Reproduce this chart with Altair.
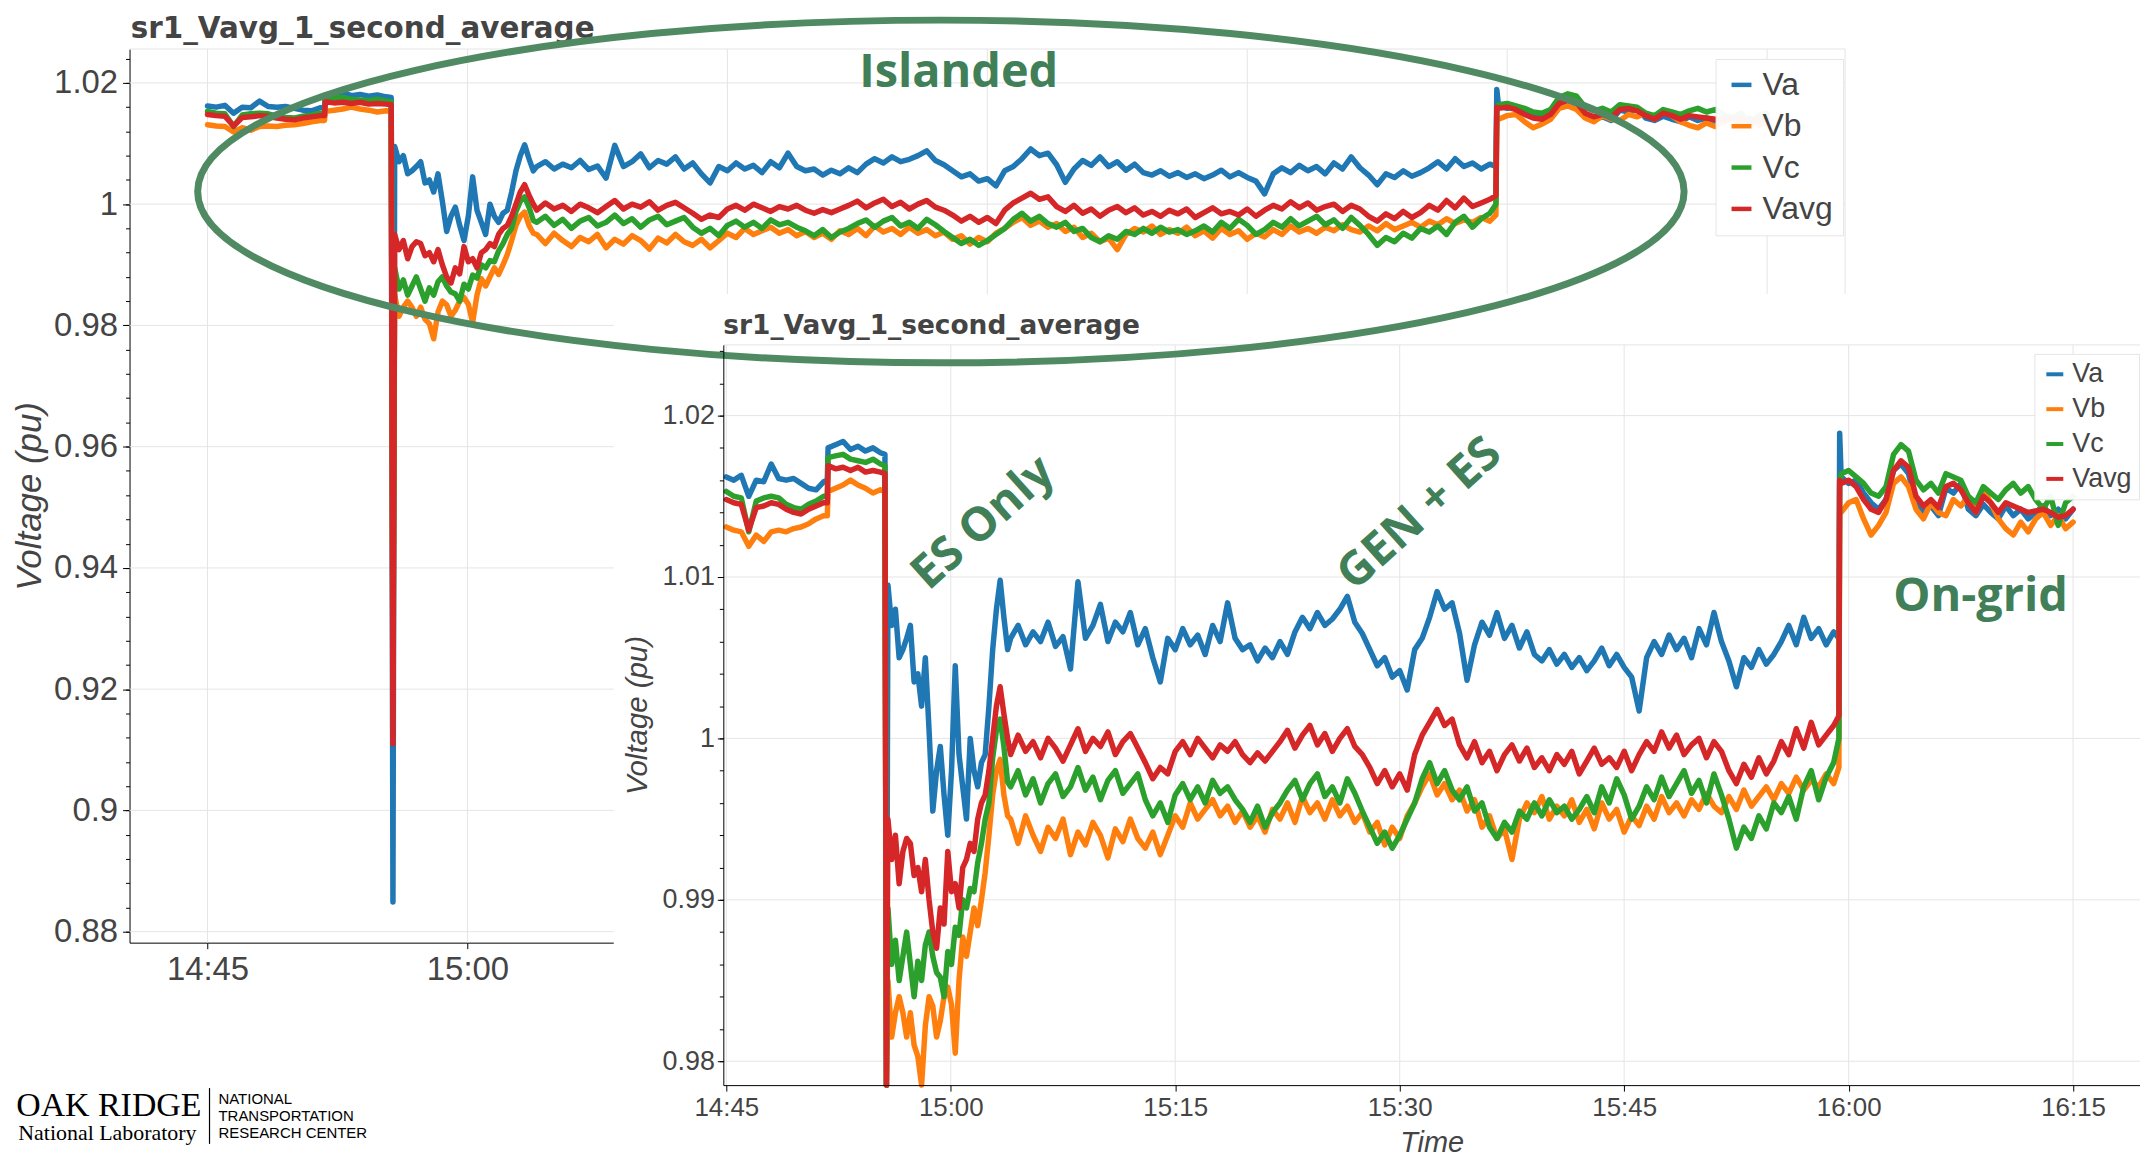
import altair as alt
import pandas as pd

# ---------------------------------------------------------------------------
# Sample instants (minutes after 14:45) and readings (1e-4 pu above 1.0 pu)
# ---------------------------------------------------------------------------
T_PRE = [0.0, 0.5, 1.0, 1.5, 2.0, 2.5, 3.0, 3.5, 4.0, 4.5, 5.0, 5.5, 6.0, 6.5, 6.75]
T_STEP = [6.8, 7.3, 7.8, 8.3, 8.8, 9.3, 9.8, 10.3, 10.6]
T_DROP = [10.7]
T_ES = [round(10.8 + 0.25 * k, 2) for k in range(33)]
T_GEN = [round(19.0 + 0.5 * k, 2) for k in range(111)]
T_JUMP = [74.35, 74.4]
T_GRID = [round(74.5 + 0.5 * k, 2) for k in range(32)]

VA_PRE = [162, 160, 163, 150, 160, 159, 170, 161, 160, 161, 158, 155, 154, 159, 160]
VB_PRE = [131, 129, 128, 119, 126, 122, 128, 129, 128, 130, 131, 133, 136, 138, 138]
VC_PRE = [153, 150, 149, 128, 147, 149, 150, 149, 145, 143, 142, 145, 147, 150, 150]
VAVG_PRE = [148, 146, 145, 129, 143, 144, 146, 145, 142, 140, 139, 142, 144, 146, 146]

VA_STEP = [180, 182, 184, 179, 181, 178, 180, 177, 176]
VB_STEP = [153, 155, 157, 160, 157, 155, 152, 154, 153]
VC_STEP = [174, 175, 176, 173, 172, 171, 173, 170, 169]
VAVG_STEP = [169, 167, 168, 166, 168, 165, 166, 165, 164]

VA_DROP = [-1151]
VB_DROP = [-750]
VC_DROP = [-770]
VAVG_DROP = [-890]

VA_ES = [95, 70, 80, 50, 55, 62, 70, 35, 40, 20, 50, 5, -45, -20, -5, -35, -60,
         -20, 45, -10, -30, -50, 0, -20, -30, -15, -10, 20, 55, 80, 98, 75, 55]
VB_ES = [-150, -185, -170, -160, -170, -185, -170, -190, -197, -222, -178, -160,
         -166, -185, -175, -160, -154, -165, -195, -150, -123, -135, -120, -105,
         -116, -100, -83, -60, -35, -20, -13, -35, -48]
VC_ES = [-105, -140, -125, -150, -135, -120, -140, -160, -138, -150, -128, -120,
         -135, -145, -148, -160, -132, -140, -117, -122, -100, -105, -93, -95,
         -77, -65, -50, -40, -12, 5, 12, -5, -27]
VAVG_ES = [-50, -75, -60, -90, -70, -62, -65, -85, -80, -95, -75, -100, -120,
           -130, -105, -115, -70, -95, -90, -105, -80, -75, -65, -70, -50, -40,
           -35, -20, 0, 20, 32, 15, 0]

VA_GEN = [62, 70, 58, 66, 60, 72, 57, 63, 43, 97,
          62, 70, 83, 60, 72, 66, 78, 58, 68, 50,
          35, 62, 55, 68, 58, 64, 52, 70, 60, 84,
          62, 55, 58, 48, 56, 50, 60, 52, 66, 75,
          68, 78, 70, 74, 80, 88, 72, 65, 55, 45,
          50, 38, 42, 30, 55, 62, 75, 91, 80, 84,
          65, 36, 58, 72, 64, 78, 62, 70, 56, 66,
          52, 48, 55, 46, 52, 44, 50, 42, 48, 56,
          45, 52, 44, 38, 17, 50, 60, 52, 64, 55,
          62, 50, 68, 58, 78, 60, 48, 32, 50, 44,
          55, 46, 52, 60, 70, 58, 75, 62, 68, 58,
          66]
VB_GEN = [-50, -65, -48, -60, -70, -55, -62, -50, -72, -58,
          -66, -52, -60, -74, -56, -64, -50, -62, -68, -58,
          -72, -60, -48, -55, -40, -50, -44, -38, -48, -42,
          -52, -45, -55, -48, -58, -44, -50, -40, -52, -36,
          -46, -40, -50, -38, -48, -42, -52, -46, -58, -52,
          -66, -55, -62, -48, -40, -30, -22, -35, -28, -38,
          -32, -45, -38, -55, -48, -62, -56, -75, -50, -40,
          -46, -36, -50, -42, -48, -38, -52, -44, -56, -40,
          -50, -44, -58, -48, -54, -42, -50, -36, -46, -40,
          -48, -38, -44, -34, -42, -46, -36, -44, -32, -42,
          -36, -30, -38, -28, -34, -24, -32, -26, -30, -22,
          -28]
VC_GEN = [-30, -20, -35, -25, -40, -28, -22, -36, -30, -18,
          -32, -24, -38, -26, -20, -34, -28, -22, -38, -48,
          -40, -52, -35, -28, -38, -30, -40, -26, -34, -30,
          -38, -44, -52, -42, -55, -46, -40, -32, -26, -38,
          -28, -22, -36, -30, -40, -25, -34, -45, -55, -65,
          -58, -68, -60, -50, -40, -25, -15, -28, -20, -32,
          -38, -30, -45, -40, -55, -62, -52, -58, -45, -50,
          -40, -48, -38, -46, -42, -50, -44, -36, -46, -30,
          -40, -25, -35, -50, -42, -30, -38, -24, -36, -28,
          -20, -34, -26, -40, -22, -35, -50, -68, -55, -62,
          -48, -56, -40, -46, -36, -50, -30, -20, -38, -24,
          -15]
VAVG_GEN = [-10, 2, -8, -2, -12, 0, -6, -14, -4, 6,
            -8, 0, -5, 4, -10, -2, 3, -6, -15, -25,
            -18, -22, -8, -2, -10, 0, -6, -12, -4, -8,
            -2, -10, -15, -9, -14, -8, -2, 5, -6, 2,
            8, -4, 3, -8, 0, 6, -5, -10, -18, -28,
            -20, -30, -22, -32, -10, 2, 10, 18, 8, 12,
            -4, -12, -2, -15, -8, -20, -10, -4, -14, -6,
            -18, -12, -20, -10, -16, -8, -22, -14, -6, -16,
            -12, -18, -8, -20, -10, -2, -8, 4, -6, 2,
            -10, -4, 0, -12, -2, -8, -20, -28, -16, -24,
            -12, -22, -14, -2, -10, 6, -6, 10, -4, 2,
            8]

VA_JUMP = [62, 189]
VB_JUMP = [-18, 140]
VC_JUMP = [0, 158]
VAVG_JUMP = [14, 160]

VA_GRID = [162, 158, 160, 152, 146, 142, 148, 166, 170, 164, 146, 140, 144, 138, 155, 152,
           158, 142, 138, 145, 140, 136, 144, 138, 142, 136, 140, 144, 138, 142, 136, 142]
VB_GRID = [140, 146, 148, 136, 126, 132, 140, 158, 162, 156, 142, 136, 146, 140, 138, 148,
           144, 150, 140, 154, 146, 136, 130, 126, 134, 128, 136, 140, 132, 138, 130, 134]
VC_GRID = [164, 166, 162, 158, 152, 150, 156, 176, 182, 178, 160, 154, 158, 152, 164, 162,
           160, 150, 146, 156, 152, 148, 154, 158, 152, 156, 148, 142, 150, 132, 146, 150]
VAVG_GRID = [158, 160, 156, 148, 142, 140, 148, 166, 172, 168, 150, 144, 148, 143, 156, 158,
             154, 146, 140, 150, 146, 140, 146, 144, 142, 140, 141, 142, 140, 137, 138, 142]

SERIES = ["Va", "Vb", "Vc", "Vavg"]
COLORS = ["#1f77b4", "#ff7f0e", "#2ca02c", "#d62728"]

# tick positions (clock minutes since midnight / pu)
X_TICKS = [885, 900, 915, 930, 945, 960, 975]
BG_Y_MAJOR = [0.88, 0.90, 0.92, 0.94, 0.96, 0.98, 1.00, 1.02]
BG_Y_MINOR = [round(0.88 + 0.004 * i, 3) for i in range(37)]
IN_Y_MAJOR = [0.98, 0.99, 1.00, 1.01, 1.02]
IN_Y_MINOR = [round(0.98 + 0.002 * i, 3) for i in range(23)]

# ---------------------------------------------------------------------------
times = T_PRE + T_STEP + T_DROP + T_ES + T_GEN + T_JUMP + T_GRID
series_vals = {
    "Va": VA_PRE + VA_STEP + VA_DROP + VA_ES + VA_GEN + VA_JUMP + VA_GRID,
    "Vb": VB_PRE + VB_STEP + VB_DROP + VB_ES + VB_GEN + VB_JUMP + VB_GRID,
    "Vc": VC_PRE + VC_STEP + VC_DROP + VC_ES + VC_GEN + VC_JUMP + VC_GRID,
    "Vavg": VAVG_PRE + VAVG_STEP + VAVG_DROP + VAVG_ES + VAVG_GEN + VAVG_JUMP + VAVG_GRID,
}
rows = []
for name in SERIES:
    vals = series_vals[name]
    if len(vals) != len(times):
        raise ValueError(f"{name}: {len(vals)} values vs {len(times)} times")
    for t, v in zip(times, vals):
        rows.append({"t": 885 + t, "v": 1 + v / 1e4, "series": name})
df = pd.DataFrame(rows)

# ---------------------------------------------------------------------------
# layout (pixels in the view) and styles
# ---------------------------------------------------------------------------
W, H = 2140, 1151
BGX = ([880.5, 979.5], [122, 1844])
BGY = ([0.87819, 1.02559], [936, 39])
INX = ([884.8, 979.47], [718, 2140])
INY = ([0.97852, 1.02438], [1079, 336])

SANS = "Liberation Sans"
INK = "#444444"
GRIDC = "#e5e5e5"
GREEN_LINE = "#4f8a63"
GREEN_TEXT = "#417f58"
LINE_W = 5.5
TIME_EXPR = "floor(datum.value / 60) + ':' + (datum.value % 60 < 10 ? '0' : '') + (datum.value % 60)"
PU_EXPR = "format(datum.value, '.2~f')"


def S(spec, clamp=False):
    return alt.Scale(domain=spec[0], range=spec[1], zero=False, nice=False, clamp=clamp)


def X(field, spec, axis=None, title=None):
    return alt.X(field, type="quantitative", scale=S(spec), axis=axis, title=title)


def Y(field, spec, axis=None, title=None, clamp=False):
    return alt.Y(field, type="quantitative", scale=S(spec, clamp), axis=axis, title=title)


def axis(**kw):
    base = dict(grid=False, domainColor="black", domainWidth=1, tickColor="black",
                tickWidth=1, labelFont=SANS, labelColor=INK, labelFlush=False,
                labelOverlap=False)
    base.update(kw)
    return alt.Axis(**base)


# ---------------------------- background chart ------------------------------
bg_h = pd.DataFrame({"v": BG_Y_MAJOR + [BGY[0][1]]})
bg_h["x0"], bg_h["x1"] = BGX[0][0], BGX[0][1]
bg_hgrid = alt.Chart(bg_h).mark_rule(color=GRIDC, strokeWidth=1).encode(
    x=X("x0", BGX), x2="x1",
    y=Y("v", BGY, axis=axis(orient="left", offset=-122, values=BG_Y_MINOR, tickSize=4,
                            labels=False, domain=False)),
)
bg_v = pd.DataFrame({"t": X_TICKS + [BGX[0][1]]})
bg_v["y0"], bg_v["y1"] = BGY[0][0], BGY[0][1]
bg_vgrid = alt.Chart(bg_v).mark_rule(color=GRIDC, strokeWidth=1).encode(
    x=X("t", BGX), y=Y("y0", BGY), y2="y1")

bg_legend = alt.Legend(orient="none", legendX=1714, legendY=49, symbolType="stroke",
                       symbolSize=400, symbolStrokeWidth=4.5, labelFont=SANS,
                       labelFontSize=32, labelColor=INK, rowPadding=9.5, padding=10,
                       labelOffset=5, fillColor="rgba(255,255,255,0.95)",
                       strokeColor=GRIDC)
bg_lines = alt.Chart(df).mark_line(strokeWidth=LINE_W, strokeJoin="round", strokeCap="round").encode(
    x=X("t", BGX, axis=axis(orient="bottom", offset=-215, values=X_TICKS, labelExpr=TIME_EXPR,
                            tickSize=6, labelFontSize=33, labelPadding=5)),
    y=Y("v", BGY, title="Voltage (pu)",
        axis=axis(orient="left", offset=-122, values=BG_Y_MAJOR, labelExpr=PU_EXPR, tickSize=7,
                  labelFontSize=33, labelPadding=5, titleFont=SANS, titleFontSize=35,
                  titleFontStyle="italic", titleFontWeight="normal", titleColor=INK,
                  titleX=-100, titleY=487.5, titleAngle=270, titleBaseline="middle",
                  titleAlign="center")),
    color=alt.Color("series:N", scale=alt.Scale(domain=SERIES, range=COLORS),
                    legend=bg_legend, title=None),
)

# ------------------------------- inset chart --------------------------------
panel = pd.DataFrame({"x0": [877.48], "x1": [995.0], "y0": [0.96], "y1": [1.02753]})
in_panel = alt.Chart(panel).mark_rect(color="white").encode(
    x=X("x0", INX), x2="x1", y=Y("y0", INY), y2="y1")

in_h = pd.DataFrame({"v": IN_Y_MAJOR + [INY[0][1]]})
in_h["x0"], in_h["x1"] = INX[0][0], INX[0][1]
in_hgrid = alt.Chart(in_h).mark_rule(color=GRIDC, strokeWidth=1).encode(
    x=X("x0", INX), x2="x1",
    y=Y("v", INY, axis=axis(orient="left", offset=-718, values=IN_Y_MINOR, tickSize=4,
                            labels=False, domain=False, zindex=1)),
)
in_v = pd.DataFrame({"t": X_TICKS})
in_v["y0"], in_v["y1"] = INY[0][0], INY[0][1]
in_vgrid = alt.Chart(in_v).mark_rule(color=GRIDC, strokeWidth=1).encode(
    x=X("t", INX), y=Y("y0", INY), y2="y1")

in_legend = alt.Legend(orient="none", legendX=2034, legendY=345, symbolType="stroke",
                       symbolSize=289, symbolStrokeWidth=4, labelFont=SANS,
                       labelFontSize=27, labelColor=INK, rowPadding=7, padding=7,
                       labelOffset=4, fillColor="rgba(255,255,255,0.95)",
                       strokeColor=GRIDC)
in_lines = alt.Chart(df).mark_line(strokeWidth=LINE_W, strokeJoin="round", strokeCap="round").encode(
    x=X("t", INX, title="Time",
        axis=axis(orient="bottom", offset=-72, values=X_TICKS, labelExpr=TIME_EXPR, tickSize=6,
                  labelFontSize=26, labelPadding=3, zindex=1, titleFont=SANS,
                  titleFontSize=29, titleFontStyle="italic", titleFontWeight="normal",
                  titleColor=INK, titleX=1429, titleY=58, titleBaseline="middle",
                  titleAlign="center")),
    y=Y("v", INY, clamp=True, title="Voltage (pu)",
        axis=axis(orient="left", offset=-718, values=IN_Y_MAJOR, labelExpr=PU_EXPR, tickSize=6,
                  labelFontSize=27, labelPadding=3, zindex=1, titleFont=SANS,
                  titleFontSize=29.5, titleFontStyle="italic", titleFontWeight="normal",
                  titleColor=INK, titleX=-86, titleY=707.5, titleAngle=270,
                  titleBaseline="middle", titleAlign="center")),
    color=alt.Color("series:N", scale=alt.Scale(domain=SERIES, range=COLORS),
                    legend=in_legend, title=None),
)

# ------------------------------- titles -------------------------------------
bg_title = alt.Chart(pd.DataFrame({"t": [880.57], "v": [1.02748],
                                   "label": ["sr1_Vavg_1_second_average"]})).mark_text(
    align="left", baseline="alphabetic", font="DejaVu Sans", fontWeight="bold",
    fontSize=29.5, color=INK).encode(x=X("t", BGX), y=Y("v", BGY), text="label:N")
in_title = alt.Chart(pd.DataFrame({"t": [884.8], "v": [1.02506],
                                   "label": ["sr1_Vavg_1_second_average"]})).mark_text(
    align="left", baseline="alphabetic", font="DejaVu Sans", fontWeight="bold",
    fontSize=26.5, color=INK).encode(x=X("t", INX), y=Y("v", INY), text="label:N")

# ------------------------------ annotations ---------------------------------
ELL_A, ELL_B = 746, 172
k = 0.5523
r = ELL_B / ELL_A
ELL_PATH = (f"M 1 0 C 1 {k*r:.5f} {k} {r:.5f} 0 {r:.5f} "
            f"C {-k} {r:.5f} -1 {k*r:.5f} -1 0 "
            f"C -1 {-k*r:.5f} {-k} {-r:.5f} 0 {-r:.5f} "
            f"C {k} {-r:.5f} 1 {-k*r:.5f} 1 0 Z")
ellipse = alt.Chart(pd.DataFrame({"t": [927.32], "v": [1.00209]})).mark_point(
    shape=ELL_PATH, size=(2 * ELL_A) ** 2, filled=False, strokeWidth=7,
    color=GREEN_LINE, opacity=1).encode(x=X("t", BGX), y=Y("v", BGY))

islanded = alt.Chart(pd.DataFrame({"t": [928.35], "v": [1.02164], "label": ["Islanded"]})).mark_text(
    align="center", baseline="middle", font="Open Sans", fontWeight="bold", fontSize=47,
    color=GREEN_TEXT).encode(x=X("t", BGX), y=Y("v", BGY), text="label:N")

diag = alt.Chart(pd.DataFrame({"t": [902.18, 931.34], "v": [1.01333, 1.01389],
                               "label": ["ES Only", "GEN + ES"]})).mark_text(
    align="center", baseline="middle", font="Open Sans", fontWeight="bold", fontSize=47,
    angle=318, color=GREEN_TEXT).encode(x=X("t", INX), y=Y("v", INY), text="label:N")

ongrid = alt.Chart(pd.DataFrame({"t": [968.82], "v": [1.00877], "label": ["On-grid"]})).mark_text(
    align="center", baseline="middle", font="Open Sans", fontWeight="bold", fontSize=47,
    color=GREEN_TEXT).encode(x=X("t", INX), y=Y("v", INY), text="label:N")

# --------------------------------- logo -------------------------------------
logo_big = alt.Chart(pd.DataFrame({"t": [873.96], "v": [0.84960], "label": ["OAK RIDGE"]})).mark_text(
    align="left", baseline="alphabetic", font="Liberation Serif", fontSize=34,
    color="black").encode(x=X("t", BGX), y=Y("v", BGY), text="label:N")
logo_lab = alt.Chart(pd.DataFrame({"t": [874.08], "v": [0.84565],
                                   "label": ["National Laboratory"]})).mark_text(
    align="left", baseline="alphabetic", font="Liberation Serif", fontSize=22,
    color="black").encode(x=X("t", BGX), y=Y("v", BGY), text="label:N")
logo_bar = alt.Chart(pd.DataFrame({"t": [885.115], "y0": [0.85420], "y1": [0.84500]})).mark_rule(
    color="black", strokeWidth=1.2).encode(x=X("t", BGX), y=Y("y0", BGY), y2="y1")
logo_ntrc = alt.Chart(pd.DataFrame({"t": [885.632] * 3, "v": [0.85239, 0.84960, 0.84680],
                                    "label": ["NATIONAL", "TRANSPORTATION", "RESEARCH CENTER"]})).mark_text(
    align="left", baseline="middle", font=SANS, fontSize=15, color="black").encode(
    x=X("t", BGX), y=Y("v", BGY), text="label:N")

layers = [bg_hgrid, bg_vgrid, bg_lines,
          in_panel, in_hgrid, in_vgrid, in_lines,
          bg_title, in_title, ellipse, islanded, diag, ongrid,
          logo_big, logo_lab, logo_bar, logo_ntrc]

chart = alt.layer(*layers).resolve_scale(
    x="independent", y="independent", color="independent"
).properties(
    width=W, height=H, padding=0, autosize=alt.AutoSizeParams(type="none")
).configure_view(strokeWidth=0)

chart.save("out.html", embed_options={"renderer": "svg", "actions": False})
